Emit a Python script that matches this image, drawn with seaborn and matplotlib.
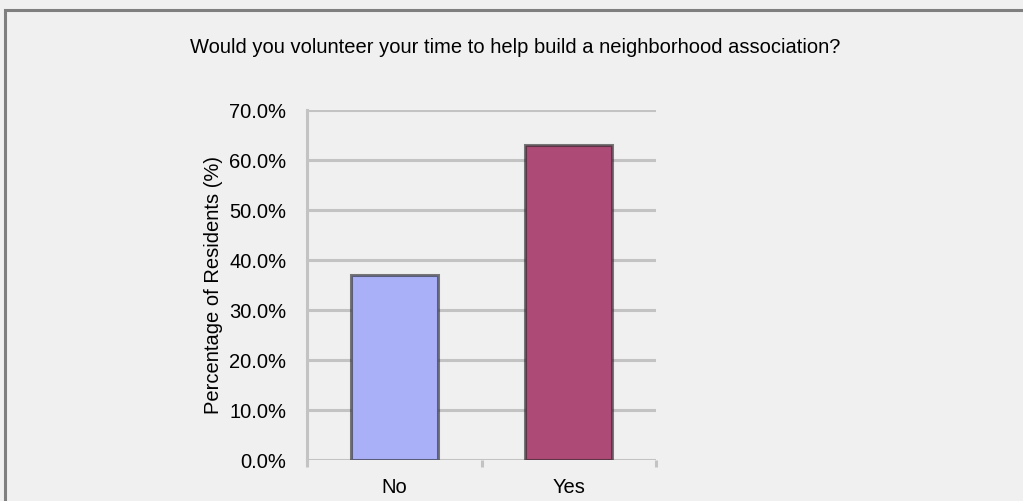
import matplotlib
matplotlib.use("Agg")
import matplotlib.pyplot as plt
import seaborn as sns
import pandas as pd
from matplotlib.patches import Rectangle
from matplotlib.ticker import FuncFormatter, FixedLocator

categories = ["No", "Yes"]
values = [37.0, 63.0]
colors = ["#aab0f8", "#ad4a75"]
yticks = [0, 10, 20, 30, 40, 50, 60, 70]
title = "Would you volunteer your time to help build a neighborhood association?"
ylabel = "Percentage of Residents (%)"

sns.set_theme(style="white")
plt.rcParams["font.family"] = ["Liberation Sans", "DejaVu Sans"]

bg = "#f0f0f0"
fig = plt.figure(figsize=(10.23, 5.01), dpi=100, facecolor=bg)
ax = fig.add_axes([307/1023, 1-460/501, (656-307)/1023, (460-110)/501])
ax.set_facecolor(bg)

df = pd.DataFrame({"cat": categories, "val": values})
sns.barplot(data=df, x="cat", y="val", hue="cat", palette=colors, legend=False,
            saturation=1, width=0.5, edgecolor=(0.15, 0.15, 0.15, 0.6), linewidth=2.2,
            ax=ax, zorder=3)

ax.set_ylim(0, 70)
ax.set_xlim(-0.5, 1.5)
ax.set_yticks(yticks)
ax.yaxis.set_major_formatter(FuncFormatter(lambda v, p: f"{v:.1f}%"))
ax.grid(axis="y", color="#c3c3c3", linewidth=2.2, zorder=0)
ax.set_axisbelow(True)

for s in ["top", "right", "bottom"]:
    ax.spines[s].set_visible(False)
ax.spines["left"].set_color("#c3c3c3")
ax.spines["left"].set_linewidth(2.2)

ax.tick_params(axis="y", which="major", length=5, width=2.2, color="#c3c3c3",
               labelsize=14.5, labelcolor="black", pad=10)
ax.tick_params(axis="x", which="major", length=0, labelsize=14.5, labelcolor="black", pad=13)
ax.xaxis.set_minor_locator(FixedLocator([-0.5, 0.5, 1.5]))
ax.tick_params(axis="x", which="minor", bottom=True, length=5, width=2.2, color="#c3c3c3")

ax.set_xlabel("")
ax.set_ylabel(ylabel, fontsize=14.5, color="black")
ax.yaxis.set_label_coords(-0.24, 0.5)

fig.text(190/1023, 1-53/501, title, ha="left", va="baseline", fontsize=14.5, color="black")

# figure border (top and left)
fig.patches.append(Rectangle((5/1023, -0.1), 1.2, 1 - 10/501 + 0.1, transform=fig.transFigure,
                             fill=False, edgecolor="#7f7f7f", linewidth=2.2))

fig.savefig("out.png", dpi=100, facecolor=bg)
